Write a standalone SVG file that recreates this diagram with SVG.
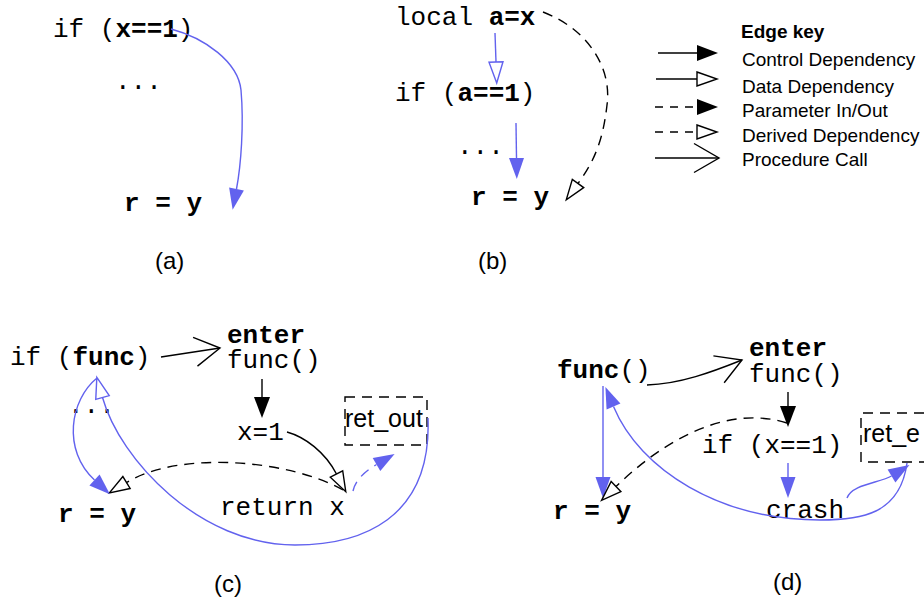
<svg xmlns="http://www.w3.org/2000/svg" width="924" height="598" viewBox="0 0 924 598">
<style>
.m{font-family:"Liberation Mono","DejaVu Sans Mono",monospace;font-size:26px;fill:#000}
.b{font-weight:bold}
.s{font-family:"Liberation Sans",Arial,sans-serif;fill:#000}
.cap{font-size:24px}
.key{font-size:19px}
.box{font-size:25px}
.bl{fill:none;stroke:#6262ee;stroke-width:1.4}
.k{fill:none;stroke:#000;stroke-width:1.4}
.d{stroke-dasharray:10,7}
.dbox{fill:none;stroke:#000;stroke-width:1.4;stroke-dasharray:10,7}
</style>
<defs>
<marker id="fBlue" markerUnits="userSpaceOnUse" orient="auto" refX="0" refY="0" markerWidth="24" markerHeight="18" overflow="visible"><path d="M0,-7.5 L21,0 L0,7.5 z" fill="#6262ee" stroke="none"/></marker>
<marker id="hBlue" markerUnits="userSpaceOnUse" orient="auto" refX="0" refY="0" markerWidth="24" markerHeight="18" overflow="visible"><path d="M0,-7 L21,0 L0,7 z" fill="#fff" stroke="#6262ee" stroke-width="1.4"/></marker>
<marker id="fBlack" markerUnits="userSpaceOnUse" orient="auto" refX="0" refY="0" markerWidth="24" markerHeight="18" overflow="visible"><path d="M0,-8 L21,0 L0,8 z" fill="#000" stroke="none"/></marker>
<marker id="hBlack" markerUnits="userSpaceOnUse" orient="auto" refX="0" refY="0" markerWidth="24" markerHeight="18" overflow="visible"><path d="M0,-7 L20,0 L0,7 z" fill="#fff" stroke="#000" stroke-width="1.4" stroke-dasharray="none"/></marker>
<marker id="vCall" markerUnits="userSpaceOnUse" orient="auto" refX="0" refY="0" markerWidth="30" markerHeight="32" overflow="visible"><path d="M-25,-14.5 L0,0 L-25,14.5" fill="none" stroke="#000" stroke-width="1.4" stroke-dasharray="none"/></marker>
</defs>
<rect width="924" height="598" fill="#fff"/>

<!-- (a) -->
<g id="a-if"><text class="m" x="53" y="37">if (<tspan class="b">x==1</tspan>)</text></g>
<g id="a-dots"><text class="m" x="115" y="89">...</text></g>
<g id="a-r"><text class="m b" x="124" y="211">r = y</text></g>
<g id="a-cap"><text class="s cap" x="155" y="269">(a)</text></g>

<!-- (b) -->
<g id="b-local"><text class="m" x="395" y="25">local <tspan class="b">a=x</tspan></text></g>
<g id="b-if"><text class="m" x="395" y="101">if (<tspan class="b">a==1</tspan>)</text></g>
<g id="b-dots"><text class="m" x="457" y="154">...</text></g>
<g id="b-r"><text class="m b" x="471" y="205">r = y</text></g>
<g id="b-cap"><text class="s cap" x="478" y="269">(b)</text></g>

<!-- Edge key -->
<g id="key">
<text class="s key b" x="741" y="38">Edge key</text>
<text class="s key" x="742" y="66">Control Dependency</text>
<text class="s key" x="742" y="93">Data Dependency</text>
<text class="s key" x="742" y="117">Parameter In/Out</text>
<text class="s key" x="742" y="142">Derived Dependency</text>
<text class="s key" x="742" y="166">Procedure Call</text>
<path class="k" d="M658,53 L697,53" marker-end="url(#fBlack)"/>
<path class="k" d="M656,79 L697,79" marker-end="url(#hBlack)"/>
<path class="k" d="M655,107 L697,107" stroke-dasharray="8,7" marker-end="url(#fBlack)"/>
<path class="k" d="M655,132 L697,132" stroke-dasharray="8,7" marker-end="url(#hBlack)"/>
<path class="k" d="M655,158 L719,158" marker-end="url(#vCall)"/>
</g>

<!-- (c) -->
<g id="c-if"><text class="m" x="10" y="365">if (<tspan class="b">func</tspan>)</text></g>
<g id="c-enter"><text class="m" x="227" y="343"><tspan class="b">enter</tspan><tspan x="227" y="368">func()</tspan></text></g>
<g id="c-x1"><text class="m" x="237" y="440">x=1</text></g>
<g id="c-ret"><text class="m" x="220" y="515">return x</text></g>
<g id="c-dots"><text class="m" x="68" y="413">...</text></g>
<g id="c-r"><text class="m b" x="58" y="522">r = y</text></g>
<g id="c-retout"><rect class="dbox" x="345" y="397" width="82" height="48"/><text class="s box" x="345" y="427">ret_out</text></g>
<g id="c-cap"><text class="s cap" x="214" y="592">(c)</text></g>

<!-- (d) -->
<g id="d-func"><text class="m" x="557" y="378"><tspan class="b">func</tspan>()</text></g>
<g id="d-enter"><text class="m" x="749" y="356"><tspan class="b">enter</tspan><tspan x="749" y="382">func()</tspan></text></g>
<g id="d-if"><text class="m" x="702" y="453">if (x==1)</text></g>
<g id="d-crash"><text class="m" x="766" y="518">crash</text></g>
<g id="d-r"><text class="m b" x="553" y="519">r = y</text></g>
<g id="d-rete"><path class="dbox" d="M924,413 L861,413 L861,462 L924,462"/><text class="s box" x="863" y="442">ret_e</text></g>
<g id="d-cap"><text class="s cap" x="773" y="590">(d)</text></g>

<g id="connectors">
<!-- (a) -->
<path class="bl" d="M171,29 C205,38 238,62 241,90 C244,125 241,165 236.5,189" marker-end="url(#fBlue)"/>
<!-- (b) -->
<path class="bl" d="M495,33 L496,62" marker-end="url(#hBlue)"/>
<path class="bl" d="M516,123 L516.5,158" marker-end="url(#fBlue)"/>
<path class="k d" d="M543,12 C590,30 612,70 607,105 C603,140 595,160 578,183.5" marker-end="url(#hBlack)"/>
<!-- (c) -->
<path class="k" d="M161,357 L220,348" marker-end="url(#vCall)"/>
<path class="k" d="M262,379 L262,397" marker-end="url(#fBlack)"/>
<path class="k" d="M287,432 C305,437 325,452 336.5,474" marker-end="url(#hBlack)"/>
<path class="k d" d="M343,490 C290,460 180,450 126.5,482.5" marker-end="url(#hBlack)"/>
<path class="bl d" d="M353,491 C355,482 362,473 376.5,464.5" marker-end="url(#fBlue)"/>
<path class="bl" d="M97,378 C70,400 62,450 94.5,480" marker-end="url(#fBlue)"/>
<path class="bl" d="M428,418 C432,520 360,545 295,545 C200,545 120,460 102.5,397.5" marker-end="url(#hBlue)"/>
<!-- (d) -->
<path class="k" d="M647,385 C680,384 712,372 742,360" marker-end="url(#vCall)"/>
<path class="k" d="M788,392 L788,406" marker-end="url(#fBlack)"/>
<path class="bl" d="M788,463 L788,477" marker-end="url(#fBlue)"/>
<path class="bl" d="M603,386 L603,477" marker-end="url(#fBlue)"/>
<path class="k d" d="M787,423 C740,408 680,425 616,486.5" marker-end="url(#hBlack)"/>
<path class="bl" d="M907,463 C900,515 860,520 820,520 C720,520 640,470 613.5,406.5" marker-end="url(#fBlue)"/>
<path class="bl" d="M847,498 C852,484 880,483 891.5,476" marker-end="url(#fBlue)"/>
</g>
</svg>
